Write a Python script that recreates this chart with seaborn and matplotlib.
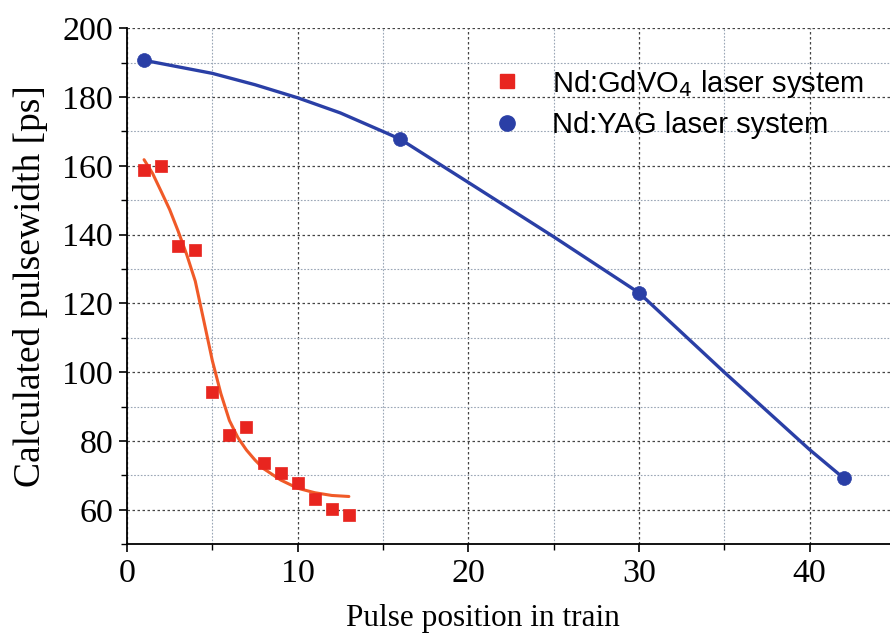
import matplotlib
matplotlib.use("Agg")
import matplotlib.pyplot as plt
import seaborn as sns
import pandas as pd
from matplotlib.ticker import MultipleLocator
from matplotlib.lines import Line2D

# Data
gd_x = [1, 2, 3, 4, 5, 6, 7, 8, 9, 10, 11, 12, 13]
gd_y = [158.8, 160.1, 136.7, 135.6, 94.4, 81.8, 84.2, 73.5, 70.8, 67.9, 63.3, 60.3, 58.6]

gd_fit_x = [1.0, 1.5, 2, 2.5, 3, 3.5, 4, 4.5, 5, 5.5, 6, 6.5, 7, 7.5, 8, 9, 10, 11, 12, 13]
gd_fit_y = [161.8, 157.8, 152.6, 147.3, 141.0, 134.2, 126.5, 115.0, 103.4, 93.8, 86.0, 81.0, 77.4, 74.5, 72.0, 68.7, 66.3, 65.0, 64.2, 63.9]

yag_x = [1, 16, 30, 42]
yag_y = [190.7, 167.8, 123.1, 69.2]

yag_line_x = [1, 3, 5, 7.5, 10, 12.5, 15, 16, 20, 25, 30, 35, 40, 42]
yag_line_y = [190.7, 188.8, 186.9, 183.6, 179.8, 175.4, 170.0, 167.8, 155.2, 139.4, 123.1, 100.0, 77.5, 69.2]

labels = ["Nd:GdVO$_4$ laser system", "Nd:YAG laser system"]
red = "#e8251f"
red_line = "#f05a28"
blue = "#2a3fa6"

sns.set_theme(style="ticks")
plt.rcParams["font.family"] = ["Liberation Serif", "DejaVu Serif"]
plt.rcParams["text.color"] = "black"
plt.rcParams["axes.labelcolor"] = "black"

W, H = 890, 634
fig = plt.figure(figsize=(W / 100, H / 100), dpi=100)
x0, x1, y0, y1 = 127, 895, 28.3, 544.3
ax = fig.add_axes([x0 / W, 1 - y1 / H, (x1 - x0) / W, (y1 - y0) / H])

df_fit = pd.DataFrame({"x": gd_fit_x, "y": gd_fit_y})
df_yagl = pd.DataFrame({"x": yag_line_x, "y": yag_line_y})
df_gd = pd.DataFrame({"x": gd_x, "y": gd_y})
df_yag = pd.DataFrame({"x": yag_x, "y": yag_y})

sns.lineplot(data=df_fit, x="x", y="y", ax=ax, color=red_line, lw=2.2, sort=True, estimator=None, zorder=3)
sns.lineplot(data=df_yagl, x="x", y="y", ax=ax, color=blue, lw=2.4, sort=True, estimator=None, zorder=3)
sns.scatterplot(data=df_gd, x="x", y="y", ax=ax, marker="s", s=85, color=red, edgecolor=red, linewidth=0.5, zorder=4)
sns.scatterplot(data=df_yag, x="x", y="y", ax=ax, marker="o", s=100, color=blue, edgecolor=blue, linewidth=0.5, zorder=4)

ax.set_xlim(0, 45)
ax.set_ylim(50, 200)
ax.xaxis.set_major_locator(MultipleLocator(10))
ax.xaxis.set_minor_locator(MultipleLocator(5))
ax.yaxis.set_major_locator(MultipleLocator(20))
ax.yaxis.set_minor_locator(MultipleLocator(10))
ax.set_yticks([60, 80, 100, 120, 140, 160, 180, 200])

ax.grid(which="major", color="#444444", linestyle=(0, (2.0, 2.0)), linewidth=0.9)
ax.grid(which="minor", color="#9aa6b6", linestyle=(0, (1.5, 1.5)), linewidth=0.8)
ax.set_axisbelow(True)

for s in ["top", "right"]:
    ax.spines[s].set_visible(False)
for s in ["left", "bottom"]:
    ax.spines[s].set_color("black")
    ax.spines[s].set_linewidth(1.3)

ax.tick_params(which="major", direction="out", length=6, width=1.2, labelsize=24.5, colors="black", pad=4)
ax.tick_params(which="minor", direction="out", length=4, width=1.0, colors="black")

ax.set_xlabel("Pulse position in train", fontsize=22.5, color="black")
ax.set_ylabel("Calculated pulsewidth [ps]", fontsize=27, color="black")
ax.xaxis.set_label_coords((483 - x0) / (x1 - x0), -(626 - y1) / (y1 - y0))
ax.xaxis.label.set_verticalalignment("baseline")
ax.yaxis.set_label_coords(-(x0 - 13) / (x1 - x0), 0.5)
ax.yaxis.label.set_verticalalignment("top")

handles = [
    Line2D([0], [0], marker="s", color="none", markerfacecolor=red, markeredgecolor=red, markersize=10),
    Line2D([0], [0], marker="o", color="none", markerfacecolor=blue, markeredgecolor=blue, markersize=11),
]
leg = ax.legend(handles, labels, loc="upper left", bbox_to_anchor=(478 / W, 1 - 56 / H),
                bbox_transform=fig.transFigure, borderaxespad=0, frameon=False,
                prop={"family": "Liberation Sans", "size": 21}, handletextpad=0.93,
                labelspacing=0.38, handlelength=1.2)
for t in leg.get_texts():
    t.set_color("black")

fig.savefig("out.png", dpi=100)
